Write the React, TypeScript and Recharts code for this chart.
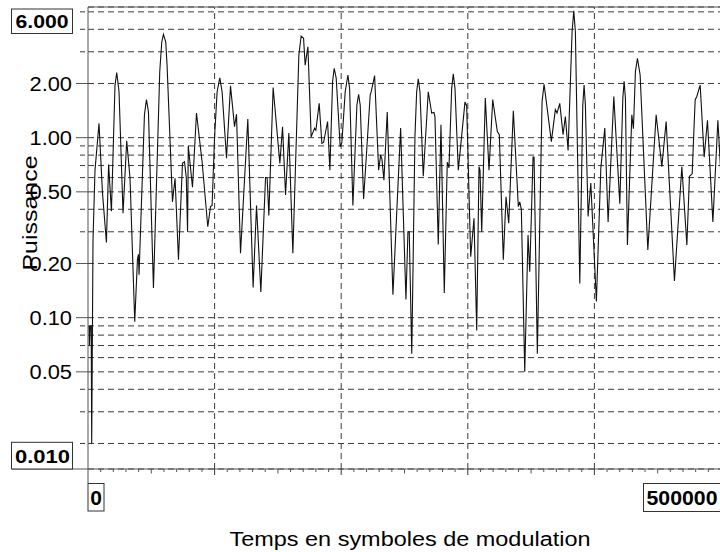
import React from 'react';
import { LineChart, Line, XAxis, YAxis, CartesianGrid, ReferenceLine } from 'recharts';

// Time in modulation symbols (main vertices)
const SYMBOLS = [
  790, 1100, 1740, 2530, 2920, 3950, 5530, 8700, 11380, 14550,
  16280, 18500, 22690, 27670, 30590, 33200, 36920, 39050, 39840, 40320,
  46170, 51700, 59600, 66720, 68770, 71460, 74620, 76200, 77630, 78650,
  79210, 82530, 85690, 90120, 94620, 96760, 98020, 99920, 104110, 109410,
  112570, 115730, 117310, 120470, 126240, 130430, 133120, 136520, 140240, 141500,
  142850, 146240, 151540, 153670, 156040, 158650, 161820, 168380, 170270, 171540,
  173680, 176280, 178970, 180000, 182610, 184740, 186080, 189250, 191060, 194470,
  199210, 200550, 205290, 209240, 213750, 217700, 222920, 223710, 226400, 229560,
  231140, 232170, 233750, 236360, 240860, 246950, 251140, 252720, 253750, 255730,
  258260, 260870, 264830, 268770, 271460, 273280, 274070, 276680, 278810, 281420,
  283790, 285130, 288530, 292490, 297780, 299120, 302290, 304900, 307030, 308850,
  309640, 310990, 313830, 316760, 319680, 323320, 324900, 328060, 330190, 332330,
  335960, 339920, 341020, 342290, 344980, 347580, 348930, 351540, 352330, 354930,
  360230, 366000, 369160, 370510, 372640, 375250, 377070, 379210, 383710, 388460,
  391850, 395020, 397150, 401580, 405060, 408220, 410830, 415330, 420080, 423480,
  426080, 429560, 430820, 433990, 442200, 448770, 453270, 456670, 463230, 469080,
  473030, 475090, 477220, 479590, 480940, 483550, 486710, 489320, 493590, 497540,
  500000,
];

// Power (main vertices)
const POWER = [
  0.09, 0.07, 0.09, 0.09, 0.02, 0.27, 0.66, 1.2, 0.5, 0.262,
  0.71, 0.39, 2.3, 0.38, 0.96, 0.595, 0.095, 0.21, 0.225, 0.173,
  1.63, 0.146, 3.75, 0.44, 0.595, 0.21, 0.72, 0.735, 0.6, 0.3,
  0.9, 0.53, 1.37, 0.735, 0.32, 0.414, 0.42, 0.99, 2.15, 0.77,
  1.94, 1.15, 1.35, 0.228, 1.27, 0.147, 0.42, 0.139, 0.6, 0.6,
  0.37, 1.9, 0.72, 1.15, 0.48, 1.06, 0.228, 3.67, 3.57, 2.53,
  3.2, 1.01, 1.13, 1.1, 1.55, 0.93, 0.94, 1.23, 0.66, 2.43,
  0.89, 0.94, 2.23, 0.42, 1.74, 0.456, 1.73, 1.8, 2.21, 0.66,
  0.8, 0.76, 0.58, 1.39, 0.134, 1.13, 0.126, 0.3, 0.3, 0.063,
  1.02, 2.12, 0.61, 1.8, 1.37, 1.38, 1.3, 0.255, 1.18, 0.137,
  0.73, 0.68, 2.26, 0.66, 1.58, 1.5, 0.218, 0.357, 0.085, 0.69,
  0.66, 0.3, 1.66, 0.66, 1.63, 1.08, 1.04, 0.21, 0.47, 0.335,
  1.41, 0.414, 0.44, 0.4, 0.05, 0.288, 0.18, 0.78, 0.78, 0.063,
  1.98, 0.95, 1.43, 1.37, 1.55, 1.04, 1.31, 0.85, 5.06, 0.155,
  1.96, 0.365, 0.56, 0.123, 0.675, 1.13, 0.34, 1.69, 0.43, 2.06,
  0.253, 1.34, 1.12, 2.76, 0.238, 1.34, 0.69, 1.23, 0.16, 0.69,
  0.253, 0.61, 0.63, 1.62, 1.7, 1.96, 0.78, 1.25, 0.34, 1.25,
  0.6,
];

// Extra samples read on the rounded shoulders of the larger peaks
const SHOULDER_SYMBOLS = [
  21340, 24510, 44580, 47750, 56680, 58260, 61420, 62450, 101980, 105930,
  166560, 193200, 196050, 203160, 206640, 212410, 215020, 259600, 262210, 287270,
  289880, 358650, 362050, 382370, 384980, 390830, 392880, 422450, 424510, 432410,
  436130,
];
const SHOULDER_POWER = [
  1.96, 1.8, 1.34, 1.39, 2.33, 3.4, 3.4, 2.53, 1.8, 1.8,
  2.88, 2.05, 2.14, 1.8, 1.88, 1.52, 1.52, 1.8, 1.8, 1.88,
  1.88, 1.58, 1.58, 3.88, 3.88, 1.52, 1.52, 1.65, 1.65, 2.33,
  2.23,
];

const Y_LABELED = [0.05, 0.1, 0.2, 0.5, 1, 2];
const Y_MINOR = [0.02, 0.03, 0.04, 0.06, 0.07, 0.08, 0.09, 0.3, 0.4, 0.6, 0.7, 0.8, 0.9, 3, 4, 5];
const Y_BOTTOM = 0.01443;
const Y_TOP = 5.32;
const Y_BOTTOM_LABEL = '0.010';
const Y_TOP_LABEL = '6.000';

const X_END = 500000;
const X_MAJOR = [100000, 200000, 300000, 400000];
const X_MINOR_STEP = 10000;
const X_START_LABEL = '0';
const X_END_LABEL = '500000';

const X_TITLE = 'Temps en symboles de modulation';
const Y_TITLE = 'Puissance';

const FONT = '"Liberation Sans", Arial, Helvetica, sans-serif';
const AXIS = '#555';
const GRID = '#3a3a3a';
const DASH = '6 4';

const data = [
  ...SYMBOLS.map((t, i) => ({ t, p: POWER[i] })),
  ...SHOULDER_SYMBOLS.map((t, i) => ({ t, p: SHOULDER_POWER[i] })),
].sort((a, b) => a.t - b.t);
const yTicks = [Y_BOTTOM, ...Y_MINOR, ...Y_LABELED, Y_TOP].sort((a, b) => a - b);
const xTicks: number[] = [];
for (let v = 0; v <= X_END; v += X_MINOR_STEP) xTicks.push(v);

const YTick = (props: any) => {
  const { x, y, payload } = props;
  const v = payload.value;
  if (v === Y_TOP) {
    return (
      <g>
        <rect x={x - 76.5} y={y + 2} width={61} height={24.5} fill="#fff" stroke="#333" strokeWidth={1} />
        <text x={x - 46} y={y + 21.3} textAnchor="middle" fontFamily={FONT} fontWeight="bold" fontSize={18.6}
          textLength={53} lengthAdjust="spacingAndGlyphs" fill="#000">{Y_TOP_LABEL}</text>
        <text x={x - 51} y={y + 206} textAnchor="middle" fontFamily={FONT} fontSize={21}
          textLength={115} lengthAdjust="spacingAndGlyphs" fill="#000"
          transform={`rotate(-90 ${x - 51} ${y + 206})`}>{Y_TITLE}</text>
      </g>
    );
  }
  if (v === Y_BOTTOM) {
    return (
      <g>
        <rect x={x - 76.5} y={y - 26.7} width={61} height={26.7} fill="#fff" stroke="#333" strokeWidth={1} />
        <text x={x - 45.5} y={y - 5.7} textAnchor="middle" fontFamily={FONT} fontWeight="bold" fontSize={18.6}
          textLength={55} lengthAdjust="spacingAndGlyphs" fill="#000">{Y_BOTTOM_LABEL}</text>
      </g>
    );
  }
  if (Y_LABELED.includes(v)) {
    return (
      <g>
        <line x1={x - 12} y1={y} x2={x} y2={y} stroke={AXIS} strokeWidth={1} />
        <text x={x - 16} y={y + 7.5} textAnchor="end" fontFamily={FONT} fontSize={19.5}
          textLength={42.5} lengthAdjust="spacingAndGlyphs" fill="#000">{v.toFixed(2)}</text>
      </g>
    );
  }
  return <line x1={x - 8} y1={y} x2={x - 3} y2={y} stroke={GRID} strokeWidth={1} />;
};

const XTick = (props: any) => {
  const { x, y, payload } = props;
  const v = payload.value;
  if (v === 0) {
    return (
      <g>
        <line x1={x - 76} y1={y} x2={x} y2={y} stroke={AXIS} strokeWidth={1} />
        <line x1={x} y1={y} x2={x} y2={y + 14} stroke={AXIS} strokeWidth={1} />
        <rect x={x} y={y + 14.5} width={16} height={27.5} fill="#fff" stroke="#333" strokeWidth={1} />
        <text x={x + 8} y={y + 36} textAnchor="middle" fontFamily={FONT} fontWeight="bold" fontSize={21} fill="#000">{X_START_LABEL}</text>
        <text x={x + 322} y={y + 77} textAnchor="middle" fontFamily={FONT} fontSize={20}
          textLength={361} lengthAdjust="spacingAndGlyphs" fill="#000">{X_TITLE}</text>
      </g>
    );
  }
  if (v === X_END) {
    return (
      <g>
        <rect x={x - 77.5} y={y + 14.5} width={77} height={28} fill="#fff" stroke="#333" strokeWidth={1} />
        <text x={x - 39} y={y + 36} textAnchor="middle" fontFamily={FONT} fontWeight="bold" fontSize={21}
          textLength={71} lengthAdjust="spacingAndGlyphs" fill="#000">{X_END_LABEL}</text>
      </g>
    );
  }
  if (X_MAJOR.includes(v)) {
    return <line x1={x} y1={y} x2={x} y2={y + 8} stroke={GRID} strokeWidth={1} strokeDasharray={DASH} />;
  }
  const len = v % 50000 === 0 ? 4.5 : 3;
  return <line x1={x} y1={y} x2={x} y2={y + len} stroke={AXIS} strokeWidth={1} />;
};

export default function App() {
  return (
    <div style={{ position: 'absolute', left: 0, top: 0, width: 720, height: 552, background: '#fff' }}>
      <LineChart width={720} height={552} data={data} margin={{ top: 7, right: -1, bottom: 0, left: 0 }}>
        <CartesianGrid horizontal vertical={false} stroke={GRID} strokeDasharray={DASH} />
        {X_MAJOR.map((v) => (
          <ReferenceLine key={v} x={v} stroke={GRID} strokeDasharray={DASH} />
        ))}
        <ReferenceLine y={Y_TOP} stroke={AXIS} />
        <XAxis
          dataKey="t"
          type="number"
          domain={[0, X_END]}
          ticks={xTicks}
          interval={0}
          tick={(p: any) => <XTick {...p} />}
          tickLine={false}
          tickSize={0}
          tickMargin={0}
          height={83}
          axisLine={{ stroke: AXIS }}
          allowDataOverflow
        />
        <YAxis
          type="number"
          scale="log"
          domain={[Y_BOTTOM, Y_TOP]}
          ticks={yTicks}
          interval={0}
          tick={(p: any) => <YTick {...p} />}
          tickLine={false}
          tickSize={0}
          tickMargin={0}
          width={88}
          axisLine={{ stroke: AXIS }}
          allowDataOverflow
        />
        <Line
          type="linear"
          dataKey="p"
          stroke="#111"
          strokeWidth={1.1}
          dot={false}
          activeDot={false}
          isAnimationActive={false}
        />
      </LineChart>
    </div>
  );
}
